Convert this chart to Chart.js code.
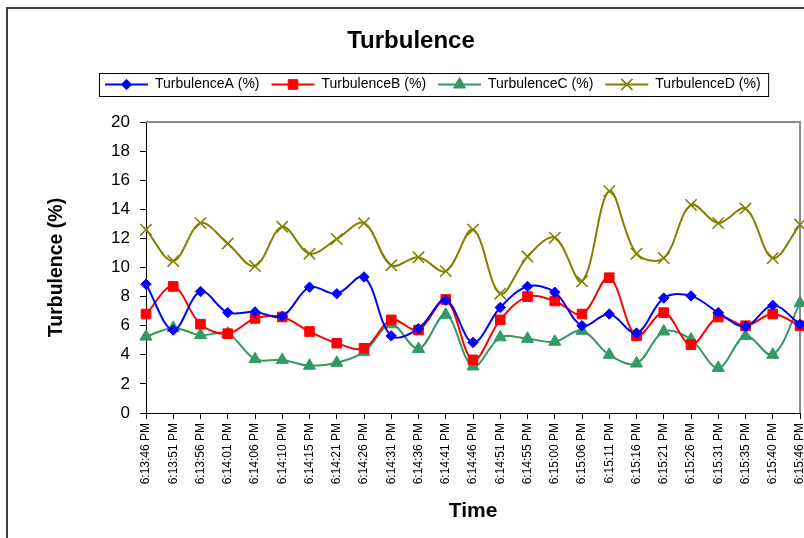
<!DOCTYPE html>
<html>
<head>
<meta charset="utf-8">
<script src="https://cdn.jsdelivr.net/npm/chart.js@4"></script>
<style>
	html, body { margin: 0; padding: 0; background: #fff; }
	#wrap { width: 804px; height: 538px; position: relative; }
</style>
</head>
<body>
<div id="wrap"><canvas id="chartID" width="804" height="538"></canvas></div>
<script>
let labels = ['6:13:46 PM', '6:13:51 PM', '6:13:56 PM', '6:14:01 PM', '6:14:06 PM', '6:14:10 PM', '6:14:15 PM',
	'6:14:21 PM', '6:14:26 PM', '6:14:31 PM', '6:14:36 PM', '6:14:41 PM', '6:14:46 PM', '6:14:51 PM',
	'6:14:55 PM', '6:15:00 PM', '6:15:06 PM', '6:15:11 PM', '6:15:16 PM', '6:15:21 PM', '6:15:26 PM',
	'6:15:31 PM', '6:15:35 PM', '6:15:40 PM', '6:15:46 PM']

let turbA = [8.85, 5.7, 8.35, 6.9, 6.95, 6.65, 8.65, 8.2, 9.35, 5.3, 5.8, 7.75, 4.85,
	7.25, 8.7, 8.3, 6.0, 6.8, 5.5, 7.9, 8.05, 6.9, 5.95, 7.4, 6.1]
let turbB = [6.8, 8.7, 6.1, 5.45, 6.5, 6.6, 5.6, 4.8, 4.45, 6.4, 5.7, 7.8, 3.65,
	6.4, 8.0, 7.7, 6.8, 9.3, 5.3, 6.9, 4.7, 6.6, 6.0, 6.8, 6.0]
let turbC = [5.25, 5.85, 5.35, 5.45, 3.7, 3.65, 3.25, 3.45, 4.2, 6.1, 4.4, 6.75, 3.2,
	5.2, 5.1, 4.9, 5.65, 4.0, 3.4, 5.6, 5.05, 3.1, 5.3, 4.0, 7.55]
let turbD = [12.6, 10.45, 13.05, 11.65, 10.1, 12.8, 10.95, 11.95, 13.05, 10.15, 10.7, 9.75, 12.6,
	8.2, 10.75, 12.05, 9.05, 15.25, 10.95, 10.65, 14.3, 13.05, 14.05, 10.65, 12.95]

let yTicks = [0, 2, 4, 6, 8, 10, 12, 14, 16, 18, 20]

const fontFam = '"Liberation Sans", Arial, sans-serif'

function makeSet(label, values, color, style, radius, bw) {
	return {
		label: label,
		data: values,
		borderColor: color,
		backgroundColor: color,
		borderWidth: bw,
		tension: 0.35,
		fill: false,
		pointStyle: style,
		pointRadius: radius,
		pointHoverRadius: radius,
		pointBorderColor: color,
		pointBackgroundColor: color,
		pointBorderWidth: style == 'crossRot' ? 1.6 : 1,
		clip: false,
	}
}

const data = {
	labels: labels,
	datasets: [
		makeSet('TurbulenceA (%)', turbA, '#0000ff', 'rectRot', 5.2, 2),
		makeSet('TurbulenceB (%)', turbB, '#ff0000', 'rect', 6.8, 2),
		makeSet('TurbulenceC (%)', turbC, '#339966', 'triangle', 7, 2),
		makeSet('TurbulenceD (%)', turbD, '#808000', 'crossRot', 8, 2),
	],
}

// frame, plot borders, legend box and markers
const framePlugin = {
	id: 'frame',
	afterLayout(chart) {
		let lg = chart.legend
		let pad = lg.options.labels.padding
		lg.left = 105 - pad
		let dy = 65.5 - lg.top
		lg.top += dy
		lg.bottom += dy
		chart.titleBlock.left += 7
		chart.titleBlock.right += 7
	},
	beforeDraw(chart) {
		let ctx = chart.ctx
		ctx.save()
		ctx.fillStyle = '#fff'
		ctx.fillRect(0, 0, chart.width, chart.height)
		ctx.strokeStyle = '#404040'
		ctx.lineWidth = 2
		ctx.beginPath()
		ctx.moveTo(7, chart.height)
		ctx.lineTo(7, 8)
		ctx.lineTo(chart.width, 8)
		ctx.stroke()
		ctx.restore()
	},
	beforeDatasetsDraw(chart) {
		let ctx = chart.ctx
		let a = chart.chartArea
		ctx.save()
		ctx.strokeStyle = '#8c8c8c'
		ctx.lineWidth = 2
		ctx.beginPath()
		ctx.moveTo(a.left, a.top)
		ctx.lineTo(a.right, a.top)
		ctx.lineTo(a.right, a.bottom)
		ctx.stroke()
		ctx.restore()
	},
	afterDraw(chart) {
		let ctx = chart.ctx
		let lg = chart.legend
		let hb = lg.legendHitBoxes
		if (!hb || !hb.length) return
		let bw = lg.options.labels.pointStyleWidth
		ctx.save()
		hb.forEach(function(box, i) {
			let ds = chart.data.datasets[i]
			let cx = box.left + bw / 2
			let cy = box.top + box.height / 2
			if (Chart.helpers && Chart.helpers.drawPoint) {
				ctx.fillStyle = ds.pointBackgroundColor
				ctx.strokeStyle = ds.pointBorderColor
				ctx.lineWidth = ds.pointBorderWidth
				Chart.helpers.drawPoint(ctx, {pointStyle: ds.pointStyle, radius: ds.pointRadius, borderWidth: ds.pointBorderWidth, rotation: 0}, cx, cy)
			}
		})
		let last = hb[hb.length - 1]
		let mid = hb[0].top + hb[0].height / 2
		ctx.strokeStyle = '#000'
		ctx.lineWidth = 1
		ctx.strokeRect(99.5, Math.round(mid - 11.5) + 0.5, last.left + last.width + 8 - 99.5, 23)
		ctx.restore()
	},
}

let chartCtx = document.getElementById('chartID').getContext('2d')
let lineChart = new Chart(chartCtx, {
	type: 'line',
	data: data,
	plugins: [framePlugin],
	options: {
		responsive: false,
		animation: false,
		layout: { autoPadding: false, padding: { top: 8, left: 8, right: 4, bottom: 0 } },
		plugins: {
			title: {
				display: true,
				text: 'Turbulence',
				color: '#000',
				font: { family: fontFam, size: 24, weight: 'bold' },
				padding: { top: 19.4, bottom: 29.8 },
			},
			legend: {
				display: true,
				align: 'start',
				labels: {
					color: '#000',
					font: { family: fontFam, size: 14 },
					usePointStyle: true,
					pointStyleWidth: 43,
					padding: 12,
					generateLabels(chart) {
						return chart.data.datasets.map(function(ds, i) {
							return {
								text: ds.label,
								datasetIndex: i,
								pointStyle: 'line',
								strokeStyle: ds.borderColor,
								fillStyle: ds.borderColor,
								lineWidth: 2,
								fontColor: '#000',
								hidden: false,
							}
						})
					},
				},
			},
			tooltip: { enabled: false },
		},
		scales: {
			x: {
				offset: false,
				grid: { display: true, drawOnChartArea: false, drawTicks: true, tickLength: 6, color: '#000', offset: false },
				border: { display: true, color: '#000', width: 1 },
				ticks: {
					autoSkip: false,
					maxRotation: 90,
					minRotation: 90,
					padding: 4,
					color: '#000',
					font: { family: fontFam, size: 12 },
				},
				title: {
					display: true,
					text: 'Time',
					color: '#000',
					font: { family: fontFam, size: 21, weight: 'bold' },
					padding: { top: 0, bottom: 14.4 },
				},
				afterFit(scale) {
					scale.height = 125
					scale.paddingLeft = 0
					scale.paddingRight = 0
				},
			},
			y: {
				min: 0,
				max: 20,
				grid: { display: true, drawOnChartArea: false, drawTicks: true, tickLength: 6, color: '#000' },
				border: { display: true, color: '#000', width: 1 },
				afterBuildTicks(scale) {
					scale.ticks = yTicks.map(v => ({ value: v }))
				},
				ticks: {
					padding: 10,
					color: '#000',
					font: { family: fontFam, size: 17 },
				},
				title: {
					display: true,
					text: 'Turbulence (%)',
					color: '#000',
					font: { family: fontFam, size: 19.5, weight: 'bold' },
					padding: { top: 37.3, bottom: 0 },
				},
				afterFit(scale) {
					scale.width = 138
				},
			},
		},
	},
})
</script>
</body>
</html>
